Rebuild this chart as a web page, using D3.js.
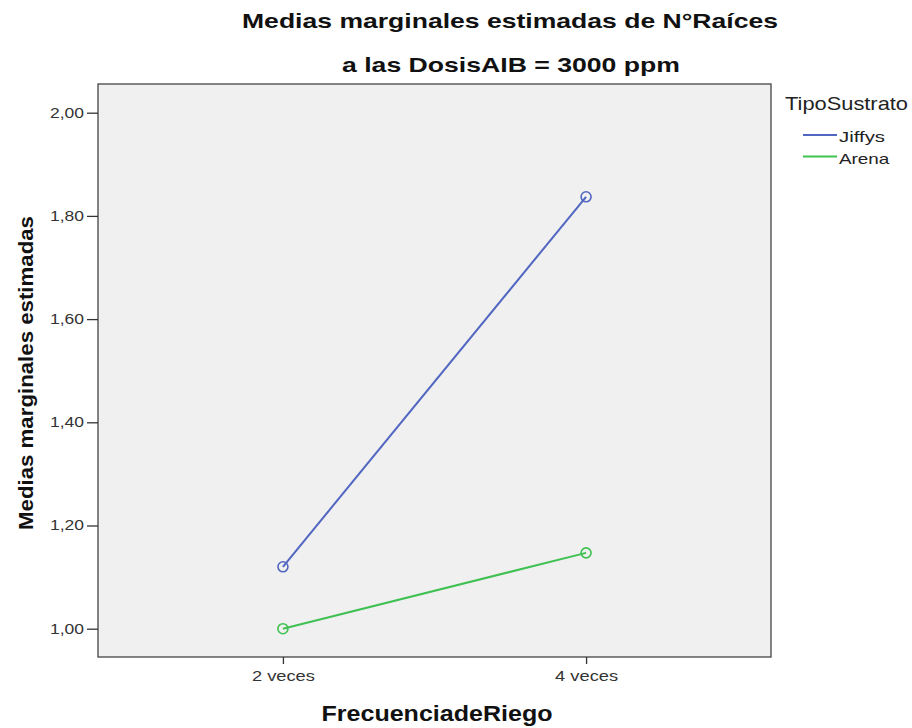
<!DOCTYPE html>
<html>
<head>
<meta charset="utf-8">
<script src="https://cdn.jsdelivr.net/npm/d3@7"></script>
<style>
  body { margin: 0; background: #fff; }
  svg { font-family: "Liberation Sans", Arial, sans-serif; }
</style>
</head>
<body>
<svg id="chart" width="912" height="728"></svg>
<script>
// Estimated marginal means of N°Raíces at DosisAIB = 3000 ppm
const categories = ["2 veces", "4 veces"];
const seriesNames = ["Jiffys", "Arena"];
const jiffysValues = [1.12, 1.837];
const arenaValues = [1.00, 1.147];
const seriesColors = ["#5166c1", "#3fc152"];
const yTicks = [1.0, 1.2, 1.4, 1.6, 1.8, 2.0];

const series = [
  { name: seriesNames[0], values: jiffysValues, color: seriesColors[0] },
  { name: seriesNames[1], values: arenaValues, color: seriesColors[1] }
];

const svg = d3.select("#chart");
const plot = { left: 98, right: 771, top: 84, bottom: 657 };

const x = d3.scalePoint()
  .domain(categories)
  .range([plot.left, plot.right])
  .padding(0.61);

const y = d3.scaleLinear()
  .domain([1.0, 2.0])
  .range([628.7, 112.7]);

const fmt = v => d3.format(".2f")(v).replace(".", ",");

// plot background
svg.append("rect")
  .attr("x", plot.left).attr("y", plot.top)
  .attr("width", plot.right - plot.left)
  .attr("height", plot.bottom - plot.top)
  .attr("fill", "#f0f0f0")
  .attr("stroke", "#444")
  .attr("stroke-width", 1.3);

// y axis
const yAxis = svg.append("g")
  .attr("transform", `translate(${plot.left},0)`)
  .call(d3.axisLeft(y).tickValues(yTicks).tickFormat(fmt).tickSize(11).tickPadding(3));
yAxis.select(".domain").remove();
yAxis.selectAll(".tick line").attr("stroke", "#333").attr("stroke-width", 1.3);
yAxis.selectAll(".tick text")
  .attr("fill", "#333")
  .attr("textLength", 34)
  .attr("lengthAdjust", "spacingAndGlyphs")
  .style("font-size", "14px")
  .style("font-family", "Liberation Sans, Arial, sans-serif");

// x axis
const xAxis = svg.append("g")
  .attr("transform", `translate(0,${plot.bottom})`)
  .call(d3.axisBottom(x).tickSize(7).tickPadding(6));
xAxis.select(".domain").remove();
xAxis.selectAll(".tick line").attr("stroke", "#333").attr("stroke-width", 1.3);
xAxis.selectAll(".tick text")
  .attr("fill", "#333")
  .attr("textLength", 63)
  .attr("lengthAdjust", "spacingAndGlyphs")
  .style("font-size", "15.5px")
  .style("font-family", "Liberation Sans, Arial, sans-serif");

// lines and markers
const line = d3.line()
  .x((d, i) => x(categories[i]))
  .y(d => y(d));

series.forEach(s => {
  svg.append("path")
    .datum(s.values)
    .attr("d", line)
    .attr("fill", "none")
    .attr("stroke", s.color)
    .attr("stroke-width", 2);
  svg.selectAll(null)
    .data(s.values)
    .join("circle")
    .attr("cx", (d, i) => x(categories[i]))
    .attr("cy", d => y(d))
    .attr("r", 5)
    .attr("fill", "none")
    .attr("stroke", s.color)
    .attr("stroke-width", 1.6);
});

// stretched text helper
function label(xp, yp, str, size, len, opts = {}) {
  return svg.append("text")
    .attr("x", xp).attr("y", yp)
    .attr("text-anchor", opts.anchor || "start")
    .attr("font-weight", opts.bold ? "bold" : "normal")
    .attr("font-size", size)
    .attr("fill", opts.fill || "#111")
    .attr("textLength", len)
    .attr("lengthAdjust", "spacingAndGlyphs")
    .text(str);
}

// titles
label(510, 27.5, "Medias marginales estimadas de N°Raíces", 20.5, 536, { anchor: "middle", bold: true });
label(511, 72, "a las DosisAIB = 3000 ppm", 20.5, 338, { anchor: "middle", bold: true });
label(437, 721, "FrecuenciadeRiego", 22, 231, { anchor: "middle", bold: true });

svg.append("text")
  .attr("transform", "translate(33,373) rotate(-90)")
  .attr("text-anchor", "middle")
  .attr("font-weight", "bold")
  .attr("font-size", 21)
  .attr("fill", "#111")
  .attr("textLength", 314)
  .attr("lengthAdjust", "spacingAndGlyphs")
  .text("Medias marginales estimadas");

// legend
label(785, 110, "TipoSustrato", 18.5, 123, { fill: "#222" });
const legendLens = [46, 50.3];
series.forEach((s, i) => {
  const ly = 135 + i * 21.5;
  svg.append("line")
    .attr("x1", 803).attr("x2", 837)
    .attr("y1", ly).attr("y2", ly)
    .attr("stroke", s.color)
    .attr("stroke-width", 2);
  label(839, ly + 7, s.name, 15, legendLens[i], { fill: "#222" });
});
</script>
</body>
</html>
